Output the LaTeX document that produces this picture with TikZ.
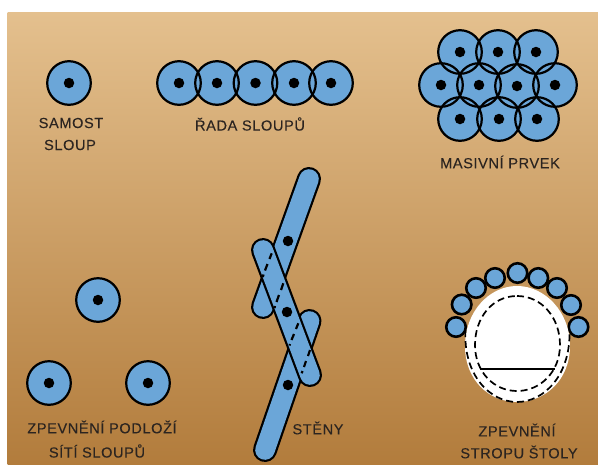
\documentclass[tikz,border=0pt]{standalone}
\usepackage{fontspec}
\setmainfont{Liberation Sans}
\definecolor{pillar}{HTML}{6BA6D8}
\definecolor{sandtop}{HTML}{E4C08E}
\definecolor{sandmid}{HTML}{CDA06A}
\definecolor{sandbot}{HTML}{B27C3C}
\definecolor{inktext}{HTML}{2B2420}
\tikzset{
  x=1pt,y=-1pt,
  colfill/.style={circle,fill=pillar,minimum size=43.6pt,inner sep=0pt},
  colline/.style={circle,draw=black,line width=2.2pt,minimum size=43.6pt,inner sep=0pt},
  col/.style={circle,draw=black,line width=2.2pt,fill=pillar,minimum size=43.6pt,inner sep=0pt},
  dotm/.style={circle,fill=black,minimum size=10.5pt,inner sep=0pt},
  ball/.style={circle,draw=black,line width=2.6pt,fill=pillar,minimum size=19.5pt,inner sep=0pt},
  lab/.style={font=\fontsize{14.6}{16}\selectfont\addfontfeatures{LetterSpace=4,FakeBold=0.08},text=inktext,inner sep=0pt,anchor=center},
  wallout/.style={line width=24pt,line cap=round,draw=black},
  wallin/.style={line width=19.6pt,line cap=round,draw=pillar},
  wdash/.style={draw=black,line width=2.2pt},
  tdash/.style={draw=black,line width=1.7pt,dash pattern=on 7pt off 4pt},
}
\newcommand{\pillarat}[3]{\node[col] (#1) at (#2,#3) {};}
\newcommand{\dotat}[2]{\node[dotm] at (#1,#2) {};}
\begin{document}
\begin{tikzpicture}
\useasboundingbox (0,0) rectangle (598,464);
\fill[white] (0,0) rectangle (598,464);
\shade[top color=sandtop,middle color=sandmid,bottom color=sandbot,shading angle=0] (7.5,12) rectangle (598,464);

% single
\pillarat{s}{69}{83} \dotat{69}{83}
\node[lab] (t1) at (71,123) {SAMOST};
\node[lab] (t2) at (70,145) {SLOUP};

% row
\foreach \x in {179,217,255.5,294,331}{\node[colfill] at (\x,83) {};}
\foreach \n/\x in {a/179,b/217,c/255.5,d/294,e/331}{\node[colline] (r\n) at (\x,83) {}; \dotat{\x}{83}}
\node[lab] (t3) at (250,124) {ŘADA SLOUPŮ};

% massive
\foreach \x/\y in {460/52,498/52,536/52,441/85,479/85,517/86,555/85,460/119,499/119,537/119}{\node[colfill] at (\x,\y) {};}
\foreach \x/\y in {460/52,498/52,536/52,441/85,479/85,517/86,555/85,460/119,499/119,537/119}{\node[colline] at (\x,\y) {}; \dotat{\x}{\y}}
\node[lab] (t4) at (500,162) {MASIVNÍ PRVEK};

% grid
\pillarat{g1}{98}{300} \dotat{98}{300}
\pillarat{g2}{49}{383} \dotat{49}{383}
\pillarat{g3}{148}{383} \dotat{148}{383}
\node[lab] (t5) at (102,427) {ZPEVNĚNÍ PODLOŽÍ};
\node[lab] (t6) at (97,451) {SÍTÍ SLOUPŮ};

% walls
\draw[wallout] (309,179) -- (263,307);
\draw[wallin] (309,179) -- (263,307);
\draw[wallout] (265,450) -- (309.5,321);
\draw[wallin] (265,450) -- (309.5,321);
\draw[wallout] (263,250) -- (310,375);
\draw[wallin] (263,250) -- (310,375);
\foreach \a/\b/\c/\d in {271.7/253.3/269.5/259,267.5/264/265/270.5,263.5/274.5/262.8/277,
                         283.3/283.3/281/290,279/295/276.5/302,275/306/274.5/308,
                         298.3/323.3/296/329,294/334/291.5/340,290/344/289.5/345.5,
                         310/350/308/356,306/361/304/367,302.5/371/301.7/373.3}
  {\draw[wdash] (\a,\b) -- (\c,\d);}
\dotat{288}{241} \dotat{287}{312} \dotat{288}{385}
\node[lab] (t7) at (318,428) {STĚNY};

% tunnel
\foreach \x/\y in {456/327,461.7/304.5,476/288,495/278,517.5/273,538.3/278,557/288,571/305,578.5/327}{\node[ball] at (\x,\y) {};}
\fill[white] (517,286) .. controls (545,286) and (570,312) .. (570,346) .. controls (570,380) and (545,402) .. (517,402) .. controls (489,402) and (465,380) .. (465,346) .. controls (465,312) and (489,286) .. (517,286) -- cycle;
\draw[tdash] (465.5,330) .. controls (463,375) and (490,402) .. (517,402) .. controls (544,402) and (571,375) .. (569.5,330);
\draw[tdash] (517,296) .. controls (542,296) and (560,318) .. (560,345) .. controls (560,372) and (540,391) .. (517,391) .. controls (494,391) and (475,372) .. (475,345) .. controls (475,318) and (492,296) .. (517,296) -- cycle;
\draw[draw=black,line width=1.8pt] (480,369) -- (555,369);
\node[lab] (t8) at (517,430) {ZPEVNĚNÍ};
\node[lab] (t9) at (519,452) {STROPU ŠTOLY};
\end{tikzpicture}
\end{document}
